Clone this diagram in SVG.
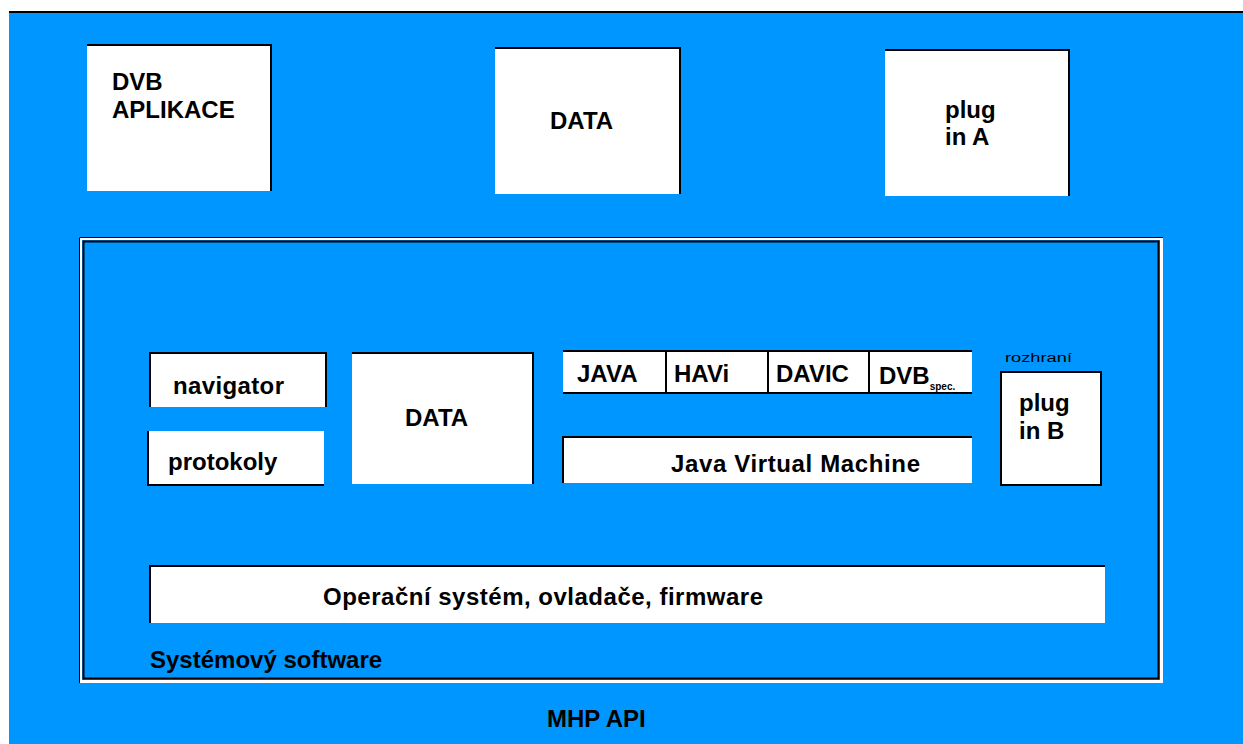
<svg xmlns="http://www.w3.org/2000/svg" width="1243" height="744" viewBox="0 0 1243 744">
<style>
.bg{fill:#0096FF}
.box{fill:#FFFFFF}
.edge{stroke:#000;stroke-width:2;fill:none}
.t{font-family:"Liberation Sans",Arial,sans-serif;font-weight:bold;font-size:24px;fill:#000}
.s{font-family:"Liberation Sans",Arial,sans-serif;font-weight:bold;font-size:10px;fill:#000}
.n{font-family:"Liberation Sans",Arial,sans-serif;font-weight:normal;font-size:12px;fill:#000}
</style>
<rect x="0" y="0" width="1243" height="744" fill="#FFFFFF"/>
<rect class="bg" x="9" y="11" width="1234" height="733"/>
<line x1="9" y1="12" x2="1243" y2="12" stroke="#000" stroke-width="2"/>

<g id="frame">
<rect x="80.5" y="238.5" width="1081" height="443" fill="none" stroke="#FFFFFF" stroke-width="3"/>
<path d="M79.5 683 V237.5 H1163" fill="none" stroke="#000" stroke-width="1"/>
<rect x="83.5" y="241.5" width="1075" height="437" fill="none" stroke="#000" stroke-width="2"/>
<text class="t" x="150" y="668" font-size="22">Systémový software</text>
</g>

<g id="dvb-aplikace">
<rect class="box" x="87" y="44" width="184" height="147"/>
<path class="edge" d="M87 45 H271 V191"/>
<text class="t" x="112" y="90">DVB</text>
<text class="t" x="112" y="118">APLIKACE</text>
</g>

<g id="data-top">
<rect class="box" x="495" y="47" width="185" height="147"/>
<path class="edge" d="M495 48 H680 V194"/>
<text class="t" x="550" y="129">DATA</text>
</g>

<g id="plug-a">
<rect class="box" x="885" y="49" width="184" height="147"/>
<path class="edge" d="M885 50 H1069 V196"/>
<text class="t" x="945" y="118">plug</text>
<text class="t" x="945" y="145">in A</text>
</g>

<g id="navigator">
<rect class="box" x="149" y="352" width="177" height="55"/>
<path class="edge" d="M150 407 V353 H326 V407"/>
<text class="t" x="173" y="394" font-size="22" textLength="111">navigator</text>
</g>

<g id="protokoly">
<rect class="box" x="147" y="431" width="177" height="55"/>
<path class="edge" d="M148 431 V485 H324"/>
<text class="t" x="168" y="470" font-size="22">protokoly</text>
</g>

<g id="data-inner">
<rect class="box" x="352" y="352" width="181" height="132"/>
<path class="edge" d="M352 353 H533 V484"/>
<text class="t" x="405" y="426">DATA</text>
</g>

<g id="apis">
<rect class="box" x="563" y="350" width="409" height="43"/>
<path class="edge" d="M563 351 H972 M563 393 H972 M666 350 V393 M768 350 V393 M869 350 V393"/>
<text class="t" x="577" y="382" font-size="22">JAVA</text>
<text class="t" x="674" y="382" font-size="22">HAVi</text>
<text class="t" x="776" y="382" font-size="22">DAVIC</text>
<text class="t" x="879" y="384" font-size="22">DVB<tspan class="s" font-size="9" dy="6">spec.</tspan></text>
</g>

<g id="jvm">
<rect class="box" x="562" y="436" width="410" height="47"/>
<path class="edge" d="M563 483 V437 H972"/>
<text class="t" x="671" y="472" font-size="22" textLength="249">Java Virtual Machine</text>
</g>

<g id="plug-b">
<text class="n" x="1005" y="362" textLength="67" lengthAdjust="spacingAndGlyphs">rozhraní</text>
<rect class="box" x="1000" y="371" width="102" height="115"/>
<rect x="1001" y="372" width="100" height="113" fill="none" stroke="#000" stroke-width="2"/>
<text class="t" x="1019" y="411">plug</text>
<text class="t" x="1019" y="439">in B</text>
</g>

<g id="os">
<rect class="box" x="149" y="565" width="956" height="58"/>
<path class="edge" d="M150 623 V566 H1105"/>
<text class="t" x="323" y="605" font-size="22" textLength="440">Operační systém, ovladače, firmware</text>
</g>

<g id="mhp-api">
<text class="t" x="547" y="727" font-size="22">MHP API</text>
</g>

<g id="connectors"></g>
</svg>
